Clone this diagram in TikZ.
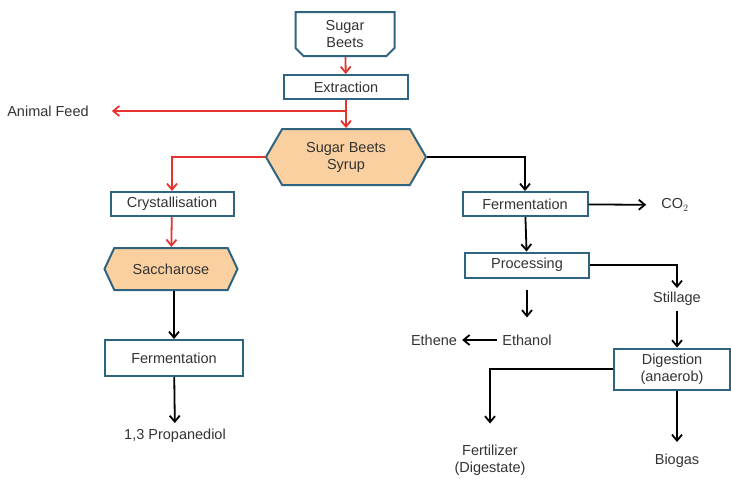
\documentclass[tikz,border=0pt]{standalone}
\usepackage{fontspec}
\setmainfont{Liberation Sans}
\usepackage{tikz}
\usetikzlibrary{arrows.meta,shapes.misc,shapes.symbols}
\definecolor{frame}{HTML}{2F6480}
\definecolor{peach}{HTML}{FAD0A0}
\definecolor{flowred}{HTML}{E63330}
\definecolor{ink}{HTML}{333333}
\tikzset{
	txt/.style={font=\fontsize{14.5}{17}\selectfont, text=ink, align=center, inner sep=1pt},
	stepbox/.style={txt, draw=frame, line width=2pt, fill=white, rectangle},
	hexbox/.style={txt, draw=frame, line width=2pt, fill=peach, signal, signal to=east and west, signal pointer angle=#1},
	redflow/.style={draw=flowred, line width=1.8pt, -{Straight Barb[length=6pt,width=10pt]}},
	blkflow/.style={draw=black, line width=1.8pt, -{Straight Barb[length=6pt,width=10pt]}}
}

\begin{document}
\begin{tikzpicture}[x=1pt, y=-1pt]
		%%%%% START %%%%%
		\useasboundingbox (0, 0) rectangle (731, 479);
		
		\node[stepbox, chamfered rectangle, chamfered rectangle corners={south west, south east}, chamfered rectangle xsep=4pt, chamfered rectangle ysep=4pt, minimum width=99pt, minimum height=44pt, inner sep=0pt] (beets) at (345, 34) {Sugar\\Beets};
		\node[stepbox, minimum width=124pt, minimum height=24pt] (extract) at (346, 87) {Extraction};
		\node[hexbox=120, minimum width=160pt, minimum height=56pt] (syrup) at (346, 157) {Sugar Beets\\Syrup};
		\node[txt] (feed) at (48, 111) {Animal Feed};
		
		% left branch
		\node[stepbox, minimum width=123pt, minimum height=24pt] (cryst) at (172, 204) {Crystallisation};
		\node[hexbox=130, minimum width=133pt, minimum height=42pt] (sacch) at (171, 269) {Saccharose};
		\node[stepbox, minimum width=138pt, minimum height=36pt] (fermL) at (174, 358) {Fermentation};
		\node[txt] (prop) at (175, 436) {1,3 Propanediol};
		
		% right branch
		\node[stepbox, minimum width=125pt, minimum height=24pt] (fermR) at (525, 204) {Fermentation};
		\node[txt] (co2) at (675, 205) {CO$_2$};
		\node[stepbox, minimum width=124pt, minimum height=25pt] (proc) at (527, 265) {Processing};
		\node[txt] (stillage) at (677, 299) {Stillage};
		\node[txt] (ethanol) at (527, 340) {Ethanol};
		\node[txt] (ethene) at (434, 340) {Ethene};
		\node[stepbox, minimum width=116pt, minimum height=41pt] (dig) at (672, 369) {Digestion\\(anaerob)};
		\node[txt] (fert) at (490, 460) {Fertilizer\\(Digestate)};
		\node[txt] (biogas) at (677, 461) {Biogas};
		
		\coordinate (split) at (345, 111);
		
		\draw[redflow] (beets) -- (extract);
		\draw[redflow] (extract) -- (syrup);
		\draw[redflow, shorten >=22pt] (split) -- (feed);
		\draw[redflow] (syrup.west) -| (cryst.north);
		\draw[redflow] (cryst) -- (sacch);
		
		\draw[blkflow] (sacch.south -| fermL.north) -- (fermL.north);
		\draw[blkflow, shorten >=5pt] (fermL) -- (prop);
		
		\draw[blkflow] (syrup.east) -| (fermR.north);
		\draw[blkflow, shorten >=14pt] (fermR) -- (co2);
		\draw[blkflow] (fermR) -- (proc);
		\draw[blkflow, shorten >=3pt] (proc.east) -| (stillage.north);
		\draw[blkflow, shorten <=11pt, shorten >=16pt] (proc.south) -- (ethanol.north);
		\draw[blkflow, shorten <=4pt, shorten >=4pt] (ethanol) -- (ethene);
		\draw[blkflow, shorten <=4pt] (stillage.south) -- (stillage.south |- dig.north);
		\draw[blkflow, shorten >=20pt] (dig.west) -| (fert.north);
		\draw[blkflow, shorten >=11pt] (biogas.north |- dig.south) -- (biogas.north);
		
		%%%%% END %%%%%
	\end{tikzpicture}
\end{document}
